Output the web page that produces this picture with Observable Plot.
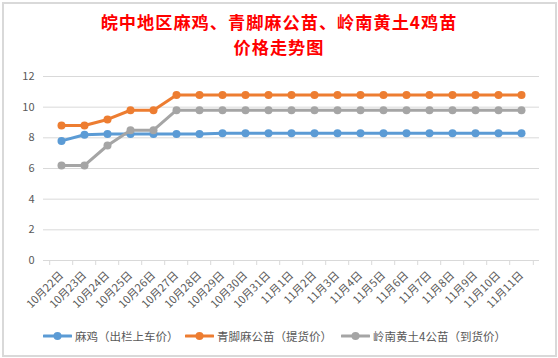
<!DOCTYPE html>
<html>
<head>
<meta charset="utf-8">
<script src="https://cdn.jsdelivr.net/npm/d3@7"></script>
<script src="https://cdn.jsdelivr.net/npm/@observablehq/plot@0.6"></script>
<style>
  html, body { margin: 0; padding: 0; background: #fff; }
  #wrap { position: relative; width: 558px; height: 358px; overflow: hidden; font-family: "Noto Sans CJK SC", "Noto Sans", sans-serif; }
  #box { position: absolute; left: 2px; top: 2px; width: 551px; height: 351px; border: 2px solid #d9d9d9; }
  .title { position: absolute; left: 0; width: 558px; height: 25px; text-align: center; color: #ff0000; font-weight: bold; font-size: 17.2px; letter-spacing: 1px; line-height: 25px; }
  #chart { position: absolute; left: 0; top: 60px; }
  .leg { position: absolute; top: 327px; height: 18px; display: flex; align-items: center; font-size: 11.5px; color: #595959; white-space: nowrap; }
  .leg svg { margin-right: 3px; }
</style>
</head>
<body>
<div id="wrap">
  <div id="box"></div>
  <div class="title" style="top:9px">皖中地区麻鸡、青脚麻公苗、岭南黄土4鸡苗</div>
  <div class="title" style="top:34px">价格走势图</div>
  <div id="chart"></div>
  <div id="legend"></div>
</div>
<script>
// ---- data ----
const dates = ["10月22日","10月23日","10月24日","10月25日","10月26日","10月27日","10月28日","10月29日","10月30日","10月31日",
  "11月1日","11月2日","11月3日","11月4日","11月5日","11月6日","11月7日","11月8日","11月9日","11月10日","11月11日"];
const seriesNames = ["麻鸡（出栏上车价）", "青脚麻公苗（提货价）", "岭南黄土4公苗（到货价）"];
const maji = [7.8, 8.2, 8.25, 8.25, 8.25, 8.25, 8.25, 8.3, 8.3, 8.3, 8.3, 8.3, 8.3, 8.3, 8.3, 8.3, 8.3, 8.3, 8.3, 8.3, 8.3];
const qingjiao = [8.8, 8.8, 9.2, 9.8, 9.8, 10.8, 10.8, 10.8, 10.8, 10.8, 10.8, 10.8, 10.8, 10.8, 10.8, 10.8, 10.8, 10.8, 10.8, 10.8, 10.8];
const lingnan = [6.2, 6.2, 7.5, 8.5, 8.5, 9.8, 9.8, 9.8, 9.8, 9.8, 9.8, 9.8, 9.8, 9.8, 9.8, 9.8, 9.8, 9.8, 9.8, 9.8, 9.8];
const yTicks = [0, 2, 4, 6, 8, 10, 12];
const colors = ["#5B9BD5", "#ED7D31", "#A5A5A5"];

// ---- table ----
const valuesList = [maji, qingjiao, lingnan];
const rows = [];
valuesList.forEach((vals, si) => vals.forEach((v, i) => rows.push({date: dates[i], value: v, series: seriesNames[si]})));

const W = 558, H = 260, ML = 43, MR = 19, MT = 16, MB = 60;
const step = (W - ML - MR) / dates.length;

const seriesMarks = seriesNames.flatMap((name, si) => {
  const d = rows.filter(r => r.series === name);
  return [
    Plot.line(d, {x: "date", y: "value", stroke: colors[si], strokeWidth: 3, strokeLinejoin: "round", strokeLinecap: "round"}),
    Plot.dot(d, {x: "date", y: "value", fill: colors[si], r: 4, stroke: "none"})
  ];
});

const chart = Plot.plot({
  width: W, height: H,
  marginLeft: ML, marginRight: MR, marginTop: MT, marginBottom: MB,
  x: {type: "point", domain: dates, padding: 0.5, label: null},
  y: {domain: [0, 12], label: null},
  style: {fontFamily: '"Noto Sans CJK SC", "Noto Sans", sans-serif', fontSize: "11px", color: "#595959", background: "transparent", overflow: "visible"},
  marks: [
    Plot.gridY(yTicks.filter(t => t > 0), {stroke: "#d9d9d9", strokeOpacity: 1, strokeWidth: 1}),
    Plot.ruleY([0], {stroke: "#d9d9d9", strokeWidth: 1.2}),
    Plot.axisY(yTicks, {tickSize: 0, tickPadding: 9, label: null, fill: "#595959", fontSize: 11}),
    Plot.axisX(dates, {tickSize: 5, stroke: "#d9d9d9", strokeOpacity: 1, tickFormat: () => "", label: null, dx: -step / 2}),
    Plot.axisX([dates[dates.length - 1]], {tickSize: 5, stroke: "#d9d9d9", strokeOpacity: 1, tickFormat: () => "", label: null, dx: step / 2}),
    Plot.axisX(dates, {tickSize: 0, tickPadding: 13, tickRotate: -45, label: null, fill: "#595959", fontSize: 11}),
    ...seriesMarks
  ]
});
document.getElementById("chart").appendChild(chart);

// ---- legend ----
const legendPos = [{sw: 43, tx: 75}, {sw: 185, tx: 218}, {sw: 341, tx: 373}];
const legend = document.getElementById("legend");
seriesNames.forEach((name, i) => {
  const item = document.createElement("div");
  item.className = "leg";
  item.style.left = legendPos[i].sw + "px";
  item.innerHTML = `<svg width="29" height="10"><line x1="1" y1="5" x2="28" y2="5" stroke="${colors[i]}" stroke-width="3" stroke-linecap="round"/><circle cx="14.5" cy="5" r="4" fill="${colors[i]}"/></svg><span>${name}</span>`;
  legend.appendChild(item);
});
</script>
</body>
</html>
